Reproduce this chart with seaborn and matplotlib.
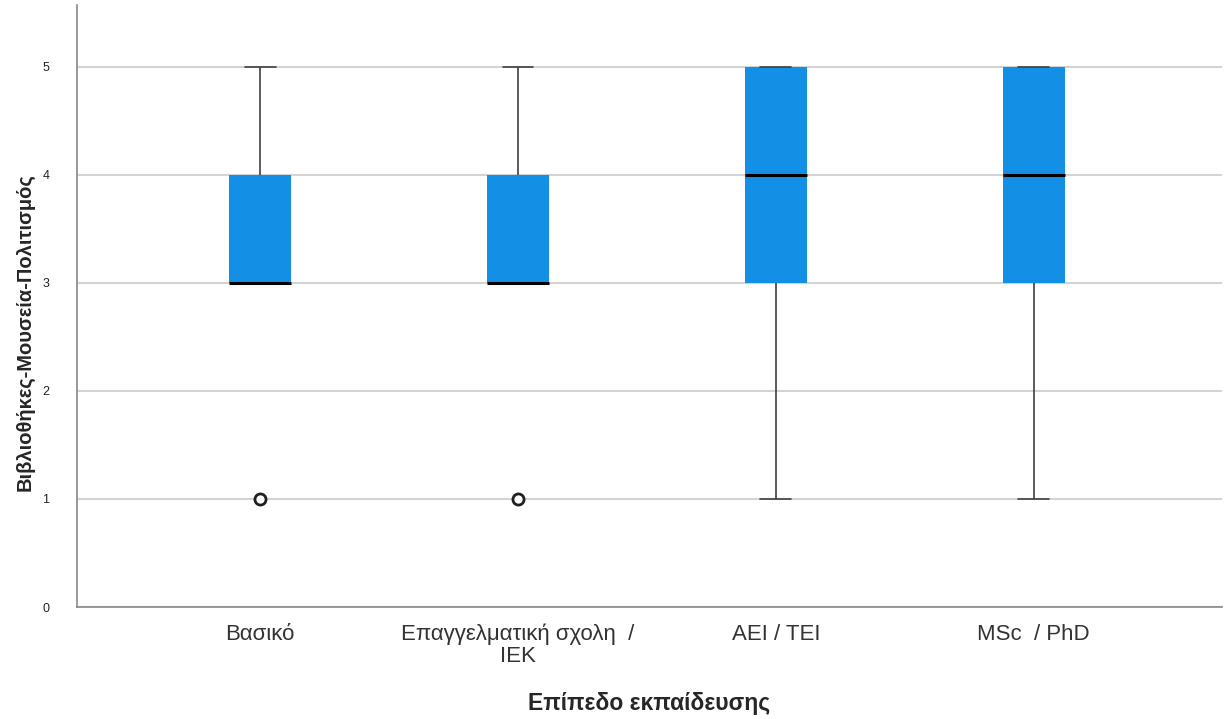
import numpy as np
import pandas as pd
import matplotlib
matplotlib.use("Agg")
import matplotlib.pyplot as plt
import seaborn as sns

# categories and response counts for scores 1..5 (estimated from the boxes)
categories = ["Βασικό", "Επαγγελματική σχολη  /\nIEK", "AEI / TEI", "MSc  / PhD"]
scores = [1, 2, 3, 4, 5]
counts_basic = [1, 0, 4, 2, 1]
counts_vocational = [1, 0, 4, 2, 1]
counts_university = [1, 0, 2, 2, 3]
counts_postgrad = [1, 0, 2, 2, 3]

all_counts = [counts_basic, counts_vocational, counts_university, counts_postgrad]
rows = []
for cat, cnts in zip(categories, all_counts):
    for s, c in zip(scores, cnts):
        rows += [(cat, s)] * c
df = pd.DataFrame(rows, columns=["level", "score"])

sns.set_style("white")
plt.rcParams["font.family"] = ["Liberation Sans", "DejaVu Sans"]

fig = plt.figure(figsize=(12.24, 7.19), dpi=100)
ax = fig.add_axes([77 / 1224, 112 / 719, 1145 / 1224, 602 / 719])

ax.set_axisbelow(True)
ax.yaxis.grid(True, color="#d3d3d3", linewidth=1.5)

sns.boxplot(
    data=df, x="level", y="score", order=categories, ax=ax,
    width=0.24, color="#148fe6", saturation=1, whis=1.5,
    boxprops=dict(edgecolor="#148fe6", linewidth=0),
    medianprops=dict(color="black", linewidth=2.2),
    whiskerprops=dict(color="#404040", linewidth=1.2),
    capprops=dict(color="#404040", linewidth=1.2),
    flierprops=dict(marker="o", markersize=8, markerfacecolor="white",
                    markeredgecolor="#202020", markeredgewidth=2),
)

ax.set_xlim(-0.71, 3.73)
ax.set_ylim(0, 5.57)
ax.set_yticks([0, 1, 2, 3, 4, 5])
ax.tick_params(axis="y", length=0, labelsize=9, pad=20, colors="#222222")
ax.tick_params(axis="x", length=0, labelsize=16, pad=12, colors="#333333")
for lbl in ax.get_xticklabels():
    lbl.set_linespacing(1.05)
for spine in ["top", "right"]:
    ax.spines[spine].set_visible(False)
for spine in ["left", "bottom"]:
    ax.spines[spine].set_color("#888888")
    ax.spines[spine].set_linewidth(1.2)

ax.set_xlabel("Επίπεδο εκπαίδευσης", fontsize=16.5, fontweight="bold", labelpad=18)
ax.set_ylabel("Βιβλιοθήκες-Μουσεία-Πολιτισμός", fontsize=14.5, fontweight="bold")
ax.yaxis.set_label_coords(-0.037, 0.457)

fig.savefig("out.png", dpi=100)
